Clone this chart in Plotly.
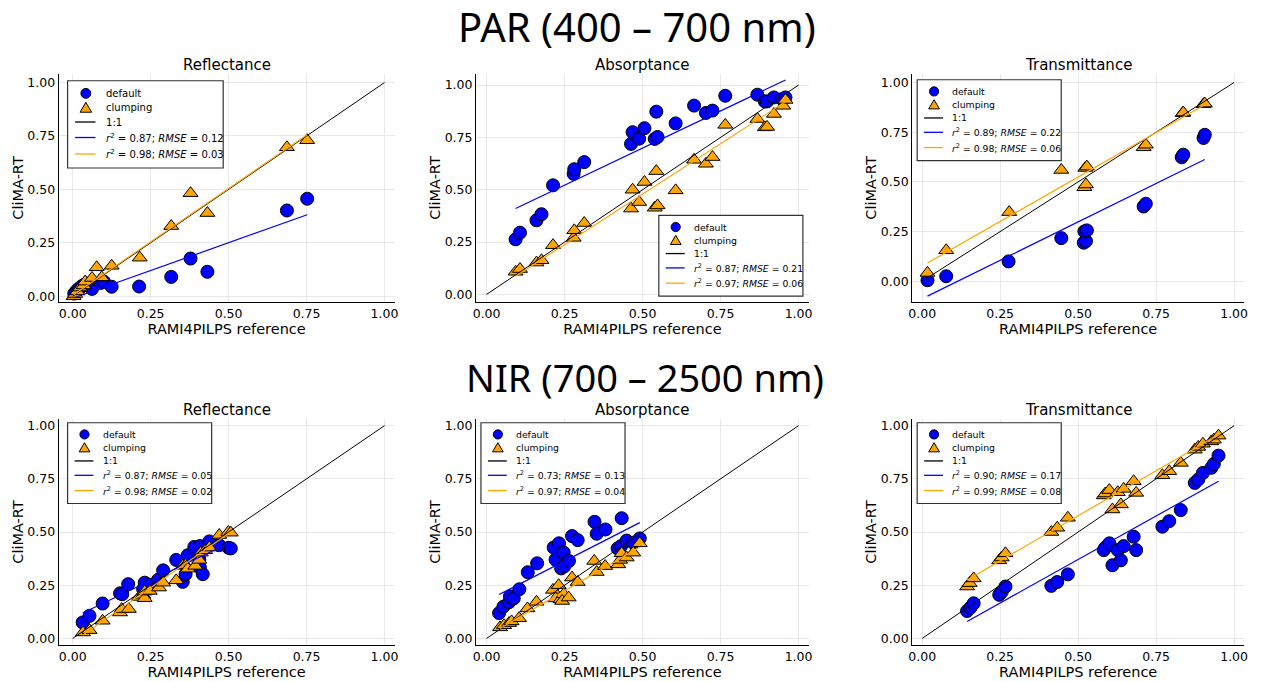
import plotly.graph_objects as go
import numpy as np

# ---------------- data ----------------
panel_titles = ["Reflectance", "Absorptance", "Transmittance"]
band_titles = ["PAR (400 – 700 nm)", "NIR (700 – 2500 nm)"]
tick_vals = [0.0, 0.25, 0.5, 0.75, 1.0]
tick_text = ["0.00", "0.25", "0.50", "0.75", "1.00"]
one_to_one = [0.0, 1.0]
legend_names = ["default", "clumping", "1:1"]

# PAR reflectance
par_refl_def_x = [0.005, 0.010, 0.015, 0.020, 0.028, 0.035, 0.045, 0.062, 0.090, 0.100, 0.125, 0.213, 0.316, 0.378, 0.432, 0.687, 0.752]
par_refl_def_y = [0.012, 0.020, 0.028, 0.035, 0.045, 0.052, 0.058, 0.034, 0.062, 0.068, 0.044, 0.045, 0.090, 0.176, 0.114, 0.401, 0.456]
par_refl_clu_x = [0.003, 0.008, 0.015, 0.024, 0.035, 0.040, 0.062, 0.077, 0.093, 0.125, 0.215, 0.316, 0.378, 0.432, 0.687, 0.752]
par_refl_clu_y = [0.000, 0.010, 0.022, 0.040, 0.050, 0.068, 0.085, 0.135, 0.088, 0.142, 0.180, 0.328, 0.482, 0.389, 0.697, 0.730]
par_refl_fit_def = [0.52, -0.010]
par_refl_fit_clu = [1.00, 0.004]
par_refl_lab = ["0.87", "0.12", "0.98", "0.03"]

# PAR absorptance
par_abs_def_x = [0.093, 0.107, 0.160, 0.176, 0.213, 0.279, 0.281, 0.313, 0.463, 0.468, 0.489, 0.506, 0.539, 0.548, 0.544, 0.606, 0.665, 0.703, 0.724, 0.765, 0.868, 0.892, 0.899, 0.921, 0.947, 0.958]
par_abs_def_y = [0.263, 0.295, 0.354, 0.383, 0.521, 0.576, 0.598, 0.632, 0.719, 0.775, 0.744, 0.794, 0.743, 0.752, 0.873, 0.817, 0.902, 0.867, 0.878, 0.949, 0.954, 0.922, 0.922, 0.941, 0.933, 0.941]
par_abs_clu_x = [0.093, 0.107, 0.160, 0.176, 0.213, 0.279, 0.281, 0.313, 0.463, 0.468, 0.489, 0.506, 0.539, 0.548, 0.544, 0.606, 0.665, 0.703, 0.724, 0.765, 0.868, 0.892, 0.899, 0.921, 0.951, 0.958]
par_abs_clu_y = [0.108, 0.121, 0.152, 0.163, 0.235, 0.270, 0.306, 0.341, 0.410, 0.500, 0.441, 0.537, 0.414, 0.425, 0.589, 0.497, 0.643, 0.624, 0.656, 0.810, 0.838, 0.798, 0.800, 0.862, 0.901, 0.929]
par_abs_fit_def = [0.71, 0.344]
par_abs_fit_clu = [0.964, -0.003]
par_abs_lab = ["0.87", "0.21", "0.97", "0.06"]

# PAR transmittance
par_tra_def_x = [0.017, 0.077, 0.277, 0.446, 0.518, 0.525, 0.520, 0.528, 0.710, 0.717, 0.832, 0.837, 0.902, 0.906]
par_tra_def_y = [0.005, 0.025, 0.100, 0.217, 0.194, 0.202, 0.251, 0.256, 0.376, 0.390, 0.624, 0.637, 0.721, 0.737]
par_tra_clu_x = [0.017, 0.077, 0.279, 0.446, 0.520, 0.525, 0.523, 0.528, 0.710, 0.717, 0.835, 0.837, 0.902, 0.906]
par_tra_clu_y = [0.042, 0.156, 0.348, 0.560, 0.473, 0.487, 0.570, 0.577, 0.674, 0.687, 0.846, 0.849, 0.891, 0.894]
par_tra_fit_def = [0.773, -0.088]
par_tra_fit_clu = [0.895, 0.077]
par_tra_lab = ["0.89", "0.22", "0.98", "0.06"]

# NIR reflectance
nir_refl_def_x = [0.032, 0.054, 0.096, 0.152, 0.159, 0.178, 0.226, 0.231, 0.247, 0.274, 0.290, 0.332, 0.353, 0.362, 0.369, 0.390, 0.406, 0.408, 0.408, 0.417, 0.438, 0.470, 0.500, 0.507]
nir_refl_def_y = [0.075, 0.106, 0.164, 0.212, 0.208, 0.255, 0.231, 0.262, 0.252, 0.276, 0.320, 0.369, 0.266, 0.302, 0.391, 0.430, 0.372, 0.434, 0.333, 0.302, 0.456, 0.438, 0.426, 0.423]
nir_refl_clu_x = [0.033, 0.054, 0.096, 0.152, 0.157, 0.180, 0.213, 0.226, 0.231, 0.231, 0.247, 0.277, 0.290, 0.332, 0.353, 0.362, 0.369, 0.393, 0.406, 0.411, 0.425, 0.438, 0.470, 0.499, 0.507]
nir_refl_clu_y = [0.028, 0.039, 0.083, 0.122, 0.138, 0.138, 0.195, 0.205, 0.189, 0.220, 0.223, 0.239, 0.262, 0.273, 0.341, 0.345, 0.328, 0.341, 0.369, 0.403, 0.414, 0.427, 0.486, 0.500, 0.497]
nir_refl_fit_def = [0.70, 0.097]
nir_refl_fit_clu = [1.02, -0.017]
nir_refl_lab = ["0.87", "0.05", "0.98", "0.02"]

# NIR absorptance
nir_abs_def_x = [0.040, 0.054, 0.072, 0.075, 0.087, 0.105, 0.132, 0.162, 0.215, 0.221, 0.232, 0.247, 0.239, 0.249, 0.264, 0.274, 0.292, 0.346, 0.353, 0.381, 0.420, 0.431, 0.433, 0.449, 0.470, 0.491]
nir_abs_def_y = [0.119, 0.149, 0.170, 0.198, 0.188, 0.231, 0.311, 0.353, 0.427, 0.370, 0.447, 0.404, 0.329, 0.339, 0.364, 0.481, 0.462, 0.548, 0.492, 0.512, 0.423, 0.434, 0.565, 0.460, 0.450, 0.470]
nir_abs_clu_x = [0.043, 0.056, 0.072, 0.080, 0.104, 0.131, 0.160, 0.213, 0.231, 0.221, 0.237, 0.247, 0.242, 0.263, 0.274, 0.292, 0.345, 0.353, 0.380, 0.422, 0.428, 0.433, 0.449, 0.470, 0.491]
nir_abs_clu_y = [0.052, 0.062, 0.072, 0.080, 0.095, 0.141, 0.172, 0.228, 0.250, 0.188, 0.184, 0.208, 0.176, 0.192, 0.286, 0.265, 0.364, 0.312, 0.340, 0.348, 0.369, 0.400, 0.380, 0.403, 0.447]
nir_abs_fit_def = [0.75, 0.176]
nir_abs_fit_clu = [0.855, 0.010]
nir_abs_lab = ["0.73", "0.13", "0.97", "0.04"]

# NIR transmittance
nir_tra_def_x = [0.144, 0.155, 0.165, 0.247, 0.255, 0.267, 0.414, 0.433, 0.467, 0.582, 0.587, 0.600, 0.610, 0.627, 0.637, 0.646, 0.678, 0.686, 0.770, 0.792, 0.829, 0.874, 0.885, 0.900, 0.927, 0.935, 0.950]
nir_tra_def_y = [0.129, 0.145, 0.165, 0.205, 0.219, 0.244, 0.247, 0.265, 0.301, 0.415, 0.427, 0.447, 0.344, 0.415, 0.367, 0.434, 0.478, 0.415, 0.525, 0.551, 0.603, 0.731, 0.747, 0.778, 0.802, 0.820, 0.859]
nir_tra_clu_x = [0.144, 0.152, 0.165, 0.247, 0.255, 0.267, 0.414, 0.433, 0.467, 0.582, 0.587, 0.600, 0.610, 0.627, 0.637, 0.646, 0.678, 0.686, 0.770, 0.792, 0.829, 0.874, 0.885, 0.900, 0.927, 0.935, 0.950]
nir_tra_clu_y = [0.244, 0.260, 0.282, 0.367, 0.380, 0.400, 0.500, 0.520, 0.567, 0.672, 0.681, 0.697, 0.606, 0.687, 0.630, 0.703, 0.739, 0.684, 0.767, 0.786, 0.825, 0.887, 0.900, 0.915, 0.926, 0.934, 0.953]
nir_tra_fit_def = [0.818, -0.038]
nir_tra_fit_clu = [0.847, 0.153]
nir_tra_lab = ["0.90", "0.17", "0.99", "0.08"]

panels = [
    (par_refl_def_x, par_refl_def_y, par_refl_clu_x, par_refl_clu_y, par_refl_fit_def, par_refl_fit_clu, par_refl_lab),
    (par_abs_def_x, par_abs_def_y, par_abs_clu_x, par_abs_clu_y, par_abs_fit_def, par_abs_fit_clu, par_abs_lab),
    (par_tra_def_x, par_tra_def_y, par_tra_clu_x, par_tra_clu_y, par_tra_fit_def, par_tra_fit_clu, par_tra_lab),
    (nir_refl_def_x, nir_refl_def_y, nir_refl_clu_x, nir_refl_clu_y, nir_refl_fit_def, nir_refl_fit_clu, nir_refl_lab),
    (nir_abs_def_x, nir_abs_def_y, nir_abs_clu_x, nir_abs_clu_y, nir_abs_fit_def, nir_abs_fit_clu, nir_abs_lab),
    (nir_tra_def_x, nir_tra_def_y, nir_tra_clu_x, nir_tra_clu_y, nir_tra_fit_def, nir_tra_fit_clu, nir_tra_lab),
]

# ---------------- layout geometry (pixels) ----------------
W, H = 1261, 682
col_px = [(55, 393), (475, 810), (914, 1248)]
row_px = [(73, 302), (419.5, 645.7)]
x_ranges = [[-0.045, 1.032], [-0.034, 1.033], [-0.032, 1.032]] * 2
y_ranges = [[-0.028, 1.041], [-0.037, 1.054], [-0.105, 1.044],
            [-0.030, 1.030], [-0.030, 1.030], [-0.030, 1.030]]
# legend boxes: top-left corner (px) and scale
legend_box = [(64, 80, 1.08), (659, 215, 1.0), (919, 79, 1.0),
              (64, 423, 1.0), (480, 423, 1.0), (919, 423, 1.0)]
LEG_W, LEG_H = 145, 81
LEG_ROWS = [11.7, 25.0, 38.3, 52.7, 68.0]

FONT = "DejaVu Sans"
BLUE = "#0000ff"
ORANGE = "#ffa500"


def px_x(p):
    return p / W


def px_y(p):
    return 1 - p / H


fig = go.Figure()
annotations = []
shapes = []
layout = dict(
    width=W, height=H, margin=dict(l=0, r=0, t=0, b=0),
    paper_bgcolor="white", plot_bgcolor="white",
    font=dict(family=FONT, color="black"),
    showlegend=False,
)

for i, (dx, dy, cx, cy, fd, fc, lab) in enumerate(panels):
    r, c = divmod(i, 3)
    k = i + 1
    xa = "x" if k == 1 else f"x{k}"
    ya = "y" if k == 1 else f"y{k}"
    fit_names = [f"<i>r</i><sup>2</sup> = {lab[0]}; <i>RMSE</i> = {lab[1]}",
                 f"<i>r</i><sup>2</sup> = {lab[2]}; <i>RMSE</i> = {lab[3]}"]

    fig.add_trace(go.Scatter(x=dx, y=dy, mode="markers", name=legend_names[0],
                             marker=dict(symbol="circle", size=13, color=BLUE, line=dict(color="black", width=1)),
                             xaxis=xa, yaxis=ya))
    fig.add_trace(go.Scatter(x=cx, y=cy, mode="markers", name=legend_names[1],
                             marker=dict(symbol="triangle-up", size=13, color=ORANGE, line=dict(color="black", width=1)),
                             xaxis=xa, yaxis=ya))
    fig.add_trace(go.Scatter(x=one_to_one, y=one_to_one, mode="lines", name=legend_names[2],
                             line=dict(color="black", width=1), xaxis=xa, yaxis=ya))
    xd = np.array([min(dx), max(dx)])
    fig.add_trace(go.Scatter(x=xd, y=fd[0] * xd + fd[1], mode="lines", name=fit_names[0],
                             line=dict(color=BLUE, width=1.2), xaxis=xa, yaxis=ya))
    xc = np.array([min(cx), max(cx)])
    fig.add_trace(go.Scatter(x=xc, y=fc[0] * xc + fc[1], mode="lines", name=fit_names[1],
                             line=dict(color=ORANGE, width=1.2), xaxis=xa, yaxis=ya))

    x0, x1 = col_px[c]
    y0, y1 = row_px[r]
    axis_common = dict(showgrid=True, gridcolor="#e8e8e8", gridwidth=1, zeroline=False,
                       showline=True, linecolor="black", linewidth=1, ticks="",
                       tickvals=tick_vals, ticktext=tick_text,
                       tickfont=dict(family=FONT, size=12.5, color="black"))
    layout["xaxis" if k == 1 else f"xaxis{k}"] = dict(
        axis_common, domain=[px_x(x0), px_x(x1)], range=x_ranges[i], anchor=ya,
        title=dict(text="RAMI4PILPS reference", font=dict(family=FONT, size=14.5), standoff=2))
    layout["yaxis" if k == 1 else f"yaxis{k}"] = dict(
        axis_common, domain=[px_y(y1), px_y(y0)], range=y_ranges[i], anchor=xa,
        title=dict(text="CliMA-RT", font=dict(family=FONT, size=14.5), standoff=0))

    # subplot title
    annotations.append(dict(
        text=panel_titles[c], x=px_x((x0 + x1) / 2), y=px_y(64 if r == 0 else 410),
        xref="paper", yref="paper", showarrow=False, xanchor="center", yanchor="middle",
        font=dict(family=FONT, size=15)))

    # legend box (drawn as decoration in paper coordinates)
    bx, by, s = legend_box[i]
    shapes.append(dict(type="rect", xref="paper", yref="paper",
                       x0=px_x(bx), x1=px_x(bx + LEG_W * s), y0=px_y(by), y1=px_y(by + LEG_H * s),
                       fillcolor="white", line=dict(color="#333333", width=1.2), layer="above"))
    rows = [by + o * s for o in LEG_ROWS]
    sx = bx + 17 * s
    rad = 4.6 * s
    shapes.append(dict(type="circle", xref="paper", yref="paper",
                       x0=px_x(sx - rad), x1=px_x(sx + rad), y0=px_y(rows[0] - rad), y1=px_y(rows[0] + rad),
                       fillcolor=BLUE, line=dict(color="black", width=1), layer="above"))
    tri = [(sx, rows[1] - 5 * s), (sx - 5.4 * s, rows[1] + 4.2 * s), (sx + 5.4 * s, rows[1] + 4.2 * s)]
    path = "M {} {} L {} {} L {} {} Z".format(*[v for p in tri for v in (px_x(p[0]), px_y(p[1]))])
    shapes.append(dict(type="path", xref="paper", yref="paper", path=path,
                       fillcolor=ORANGE, line=dict(color="black", width=1), layer="above"))
    for row_y, col in zip(rows[2:], ["black", BLUE, ORANGE]):
        shapes.append(dict(type="line", xref="paper", yref="paper",
                           x0=px_x(bx + 7 * s), x1=px_x(bx + 26 * s), y0=px_y(row_y), y1=px_y(row_y),
                           line=dict(color=col, width=1.3), layer="above"))
    for row_y, txt in zip(rows, legend_names + fit_names):
        annotations.append(dict(
            text=txt, x=px_x(bx + 33.5 * s), y=px_y(row_y), xref="paper", yref="paper",
            showarrow=False, xanchor="left", yanchor="middle",
            font=dict(family=FONT, size=9.3 * s, color="black")))

for t, cxp, cyp, fs in [(band_titles[0], 637, 26, 40), (band_titles[1], 645, 377, 38)]:
    annotations.append(dict(
        text=t, x=px_x(cxp), y=px_y(cyp), xref="paper", yref="paper", showarrow=False,
        xanchor="center", yanchor="middle", font=dict(family="Noto Sans", size=fs, color="black")))

layout["annotations"] = annotations
layout["shapes"] = shapes
fig.update_layout(**layout)
fig.write_html("out.html")
